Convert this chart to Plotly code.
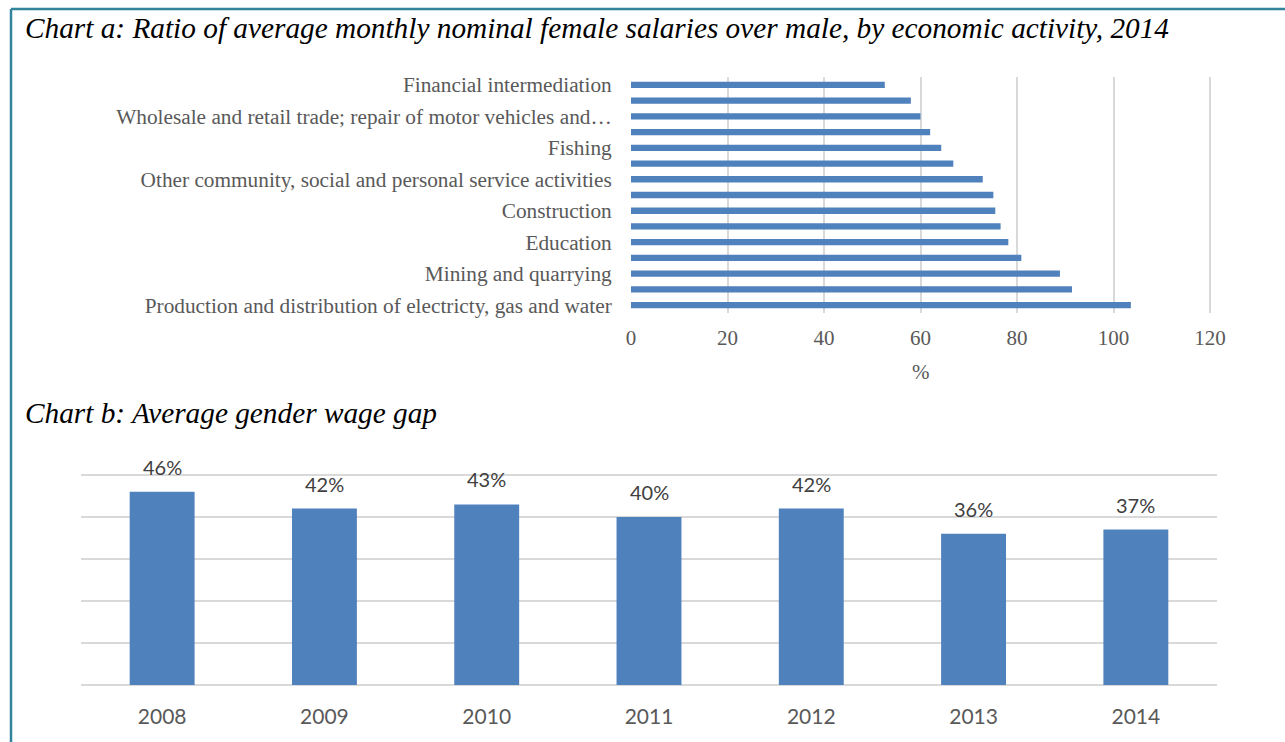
import plotly.graph_objects as go

# Chart a: ratio of female to male average monthly nominal salaries, 2014 (%),
# listed from the lowest ratio (top) to the highest (bottom)
activities = [
    "Financial intermediation",
    "Real estate, renting and business activities",
    "Wholesale and retail trade; repair of motor vehicles and…",
    "Manufacturing",
    "Fishing",
    "Hotels and restaurants",
    "Other community, social and personal service activities",
    "Health and social work",
    "Construction",
    "Transport, storage and communications",
    "Education",
    "Public administration and defence; compulsory social security",
    "Mining and quarrying",
    "Agriculture, hunting and forestry",
    "Production and distribution of electricty, gas and water",
]
ratio_values = [52.6, 58.0, 60.0, 62.0, 64.3, 66.8, 72.9, 75.1, 75.5, 76.6, 78.2, 80.9, 88.9, 91.4, 103.6]
ratio_ticks = [0, 20, 40, 60, 80, 100, 120]

# Chart b: average gender wage gap by year
years = ["2008", "2009", "2010", "2011", "2012", "2013", "2014"]
wage_gap = [0.46, 0.42, 0.43, 0.40, 0.42, 0.36, 0.37]

W, H = 1285, 742
BAR = "#4F81BD"
GRID = "#D9D9D9"
SERIF = "Liberation Serif, Times New Roman, serif"
SANS = "Lato, Carlito, Calibri, sans-serif"


def px_x(p):
    return p / W


def px_y(p):
    return 1 - p / H


fig = go.Figure()

# Horizontal bars, plotted bottom-up so the first activity sits on top
fig.add_trace(go.Bar(
    x=ratio_values[::-1], y=activities[::-1], orientation="h",
    marker=dict(color=BAR, line=dict(width=0)),
    xaxis="x", yaxis="y", showlegend=False, hoverinfo="x+y",
))

fig.add_trace(go.Bar(
    x=years, y=wage_gap,
    marker=dict(color=BAR, line=dict(width=0)),
    xaxis="x2", yaxis="y2", showlegend=False,
))

shown_labels = activities[::2]

fig.update_layout(
    template="none",
    width=W, height=H, autosize=False,
    margin=dict(l=0, r=0, t=0, b=0, pad=0),
    paper_bgcolor="white", plot_bgcolor="white",
    bargap=0.6,
    xaxis=dict(
        domain=[px_x(631), px_x(631 + 120.5 * 579 / 120)], anchor="y",
        range=[0, 120.5], tickvals=ratio_ticks, automargin=False,
        showgrid=True, gridcolor=GRID, gridwidth=1.5, zeroline=False,
        showline=False, ticks="outside", ticklen=6, tickcolor="rgba(0,0,0,0)",
        tickfont=dict(family=SERIF, size=21, color="#595959"),
    ),
    yaxis=dict(
        domain=[px_y(313), px_y(77)], anchor="x", automargin=False,
        type="category", categoryorder="array", categoryarray=activities[::-1],
        tickmode="array", tickvals=shown_labels, ticktext=shown_labels,
        showgrid=False, zeroline=False, showline=False,
        ticks="outside", ticklen=14, tickcolor="rgba(0,0,0,0)",
        tickfont=dict(family=SERIF, size=21.3, color="#595959"),
    ),
    xaxis2=dict(
        domain=[px_x(81), px_x(1217)], anchor="y2", automargin=False,
        type="category", categoryorder="array", categoryarray=years,
        range=[-0.5, len(years) - 0.5],
        showgrid=False, zeroline=False, showline=False,
        ticks="outside", ticklen=13, tickcolor="rgba(0,0,0,0)",
        tickfont=dict(family=SANS, size=21, color="#595959"),
    ),
    yaxis2=dict(
        domain=[px_y(685), px_y(685 - 0.505 * 420)], anchor="x2", automargin=False,
        range=[0, 0.505], tickvals=[0.1, 0.2, 0.3, 0.4, 0.5], showticklabels=False,
        showgrid=True, gridcolor=GRID, gridwidth=1.5,
        zeroline=True, zerolinecolor=GRID, zerolinewidth=1.5, showline=False,
    ),
)

annotations = [
    dict(text="<i>Chart a: Ratio of average monthly nominal female salaries over male, by economic activity, 2014</i>",
         x=px_x(23), y=px_y(28), xref="paper", yref="paper", xanchor="left", yanchor="middle",
         showarrow=False, font=dict(family=SERIF, size=29.3, color="black")),
    dict(text="%", x=60, y=px_y(372), xref="x", yref="paper", xanchor="center", yanchor="middle",
         showarrow=False, font=dict(family=SERIF, size=21, color="#595959")),
    dict(text="<i>Chart b: Average gender wage gap</i>",
         x=px_x(23), y=px_y(413), xref="paper", yref="paper", xanchor="left", yanchor="middle",
         showarrow=False, font=dict(family=SERIF, size=29.3, color="black")),
]
# Value labels above each year's bar (category position given by index)
for i, v in enumerate(wage_gap):
    annotations.append(dict(
        text=f"{v:.0%}", x=i, y=v, xref="x2", yref="y2",
        xanchor="center", yanchor="middle", yshift=25, showarrow=False,
        font=dict(family=SANS, size=20, color="#404040"),
    ))
fig.update_layout(annotations=annotations)

# Frame lines along the top and left edges
fig.update_layout(shapes=[
    dict(type="line", xref="paper", yref="paper", x0=px_x(11), x1=1.0, y0=px_y(9), y1=px_y(9),
         line=dict(color="#31849B", width=2.5)),
    dict(type="line", xref="paper", yref="paper", x0=px_x(11), x1=px_x(11), y0=px_y(9), y1=0,
         line=dict(color="#31849B", width=2.5)),
])

fig.write_html("out.html")
